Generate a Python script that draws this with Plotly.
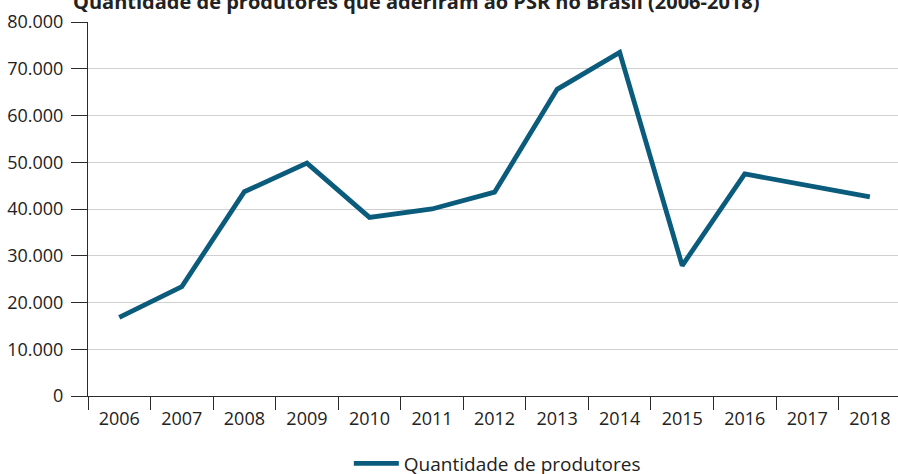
import plotly.graph_objects as go

# Producers enrolled in the rural insurance premium subsidy programme (PSR)
years = ["2006", "2007", "2008", "2009", "2010", "2011", "2012",
         "2013", "2014", "2015", "2016", "2017", "2018"]
producers = [16800, 23400, 43700, 49800, 38200, 40000, 43600,
             65600, 73500, 27900, 47500, 45000, 42600]
series_name = "Quantidade de produtores"
title_text = "Quantidade de produtores que aderiram ao PSR no Brasil (2006-2018)"
y_ticks = [0, 10000, 20000, 30000, 40000, 50000, 60000, 70000, 80000]

LINE_COLOR = "#0a5b7c"
AXIS_COLOR = "#2b2b2b"
GRID_COLOR = "#d0d0d0"
TEXT_COLOR = "#222222"
FONT = "Open Sans"

fig = go.Figure()
fig.add_trace(go.Scatter(
    x=years, y=producers, mode="lines", name=series_name,
    line=dict(color=LINE_COLOR, width=4.8),
))

fig.update_layout(
    width=898, height=474,
    margin=dict(l=88, r=0, t=22, b=78, autoexpand=False),
    paper_bgcolor="white", plot_bgcolor="white",
    separators=",.",
    font=dict(family=FONT, size=18, color=TEXT_COLOR),
    showlegend=True,
    legend=dict(orientation="h", x=0.322, xanchor="left",
                yref="container", y=0.022, yanchor="middle",
                font=dict(family=FONT, size=19, color=TEXT_COLOR),
                itemwidth=45, bgcolor="rgba(0,0,0,0)"),
    annotations=[dict(
        text="<b>" + title_text + "</b>", xref="paper", yref="paper",
        x=0.405, y=1.0535, xanchor="center", yanchor="middle", showarrow=False,
        font=dict(family=FONT, size=20, color=TEXT_COLOR),
    )],
)

fig.update_xaxes(
    type="category", range=[-0.5, 12.45],
    showline=True, linecolor=AXIS_COLOR, linewidth=1,
    ticks="outside", tickson="boundaries", ticklen=13, tickcolor=AXIS_COLOR,
    showgrid=False, zeroline=False,
    tickfont=dict(family=FONT, size=18, color=TEXT_COLOR),
    ticklabelstandoff=6,
)
fig.update_yaxes(
    range=[0, 80000], tickvals=y_ticks, tickformat=",d",
    showline=True, linecolor=AXIS_COLOR, linewidth=1,
    ticks="outside", ticklen=16, tickcolor=AXIS_COLOR,
    showgrid=True, gridcolor=GRID_COLOR, gridwidth=1, zeroline=False,
    tickfont=dict(family=FONT, size=18, color=TEXT_COLOR),
    ticklabelstandoff=4,
)

fig.write_html("out.html")
